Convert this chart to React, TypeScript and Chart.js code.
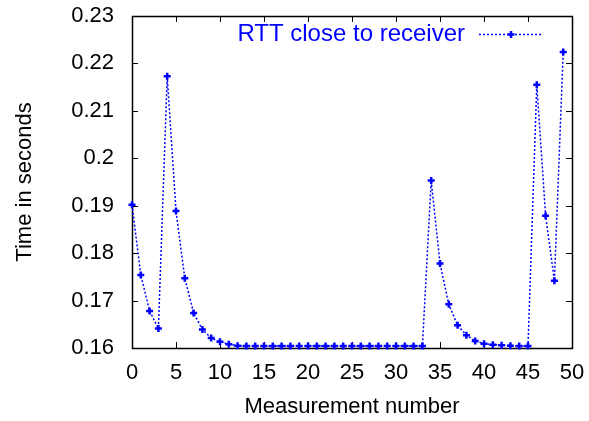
import React, { useEffect, useRef } from 'react';
import { Chart, registerables } from 'chart.js';

Chart.register(...registerables);

const measurementNumbers = [
  0, 1, 2, 3, 4, 5, 6, 7, 8, 9, 10, 11, 12, 13, 14, 15, 16, 17, 18, 19, 20, 21, 22, 23, 24,
  25, 26, 27, 28, 29, 30, 31, 32, 33, 34, 35, 36, 37, 38, 39, 40, 41, 42, 43, 44, 45, 46, 47, 48, 49,
];
const rttSeconds = [
  0.1902, 0.1754, 0.1678, 0.1641, 0.2173, 0.1889, 0.1747, 0.1674, 0.1639, 0.1621, 0.1613, 0.1608, 0.1605,
  0.1604, 0.1604, 0.1604, 0.1604, 0.1604, 0.1604, 0.1604, 0.1604, 0.1604, 0.1604,
  0.1604, 0.1604, 0.1604, 0.1604, 0.1604, 0.1604, 0.1604, 0.1604, 0.1604, 0.1604, 0.1604,
  0.1953, 0.1778, 0.1692, 0.1648, 0.1627, 0.1615, 0.1609, 0.1607, 0.1606, 0.1605, 0.1604, 0.1604,
  0.2155, 0.1879, 0.1742, 0.2224,
];
const xTickValues = [0, 5, 10, 15, 20, 25, 30, 35, 40, 45, 50];
const xTickLabels = ['0', '5', '10', '15', '20', '25', '30', '35', '40', '45', '50'];
const yTickValues = [0.16, 0.17, 0.18, 0.19, 0.2, 0.21, 0.22, 0.23];
const yTickLabels = ['0.16', '0.17', '0.18', '0.19', '0.2', '0.21', '0.22', '0.23'];
const seriesLabel = 'RTT close to receiver';
const xTitle = 'Measurement number';
const yTitle = 'Time in seconds';

const FONT = "'Liberation Sans', Arial, Helvetica, sans-serif";
const BLUE = '#0000ff';

function drawPlus(ctx: CanvasRenderingContext2D, x: number, y: number, r: number) {
  ctx.beginPath();
  ctx.moveTo(x - r, y);
  ctx.lineTo(x + r, y);
  ctx.moveTo(x, y - r);
  ctx.lineTo(x, y + r);
  ctx.stroke();
}

const zeroPadding = (scale: any) => {
  scale.paddingTop = 0;
  scale.paddingBottom = 0;
  scale.paddingLeft = 0;
  scale.paddingRight = 0;
};

const framePlugin = {
  id: 'gnuFrame',
  beforeDatasetsDraw(chart: any) {
    const { ctx, chartArea, scales } = chart;
    const { left, right, top, bottom } = chartArea;
    const tl = 6;
    ctx.save();
    ctx.strokeStyle = '#000';
    ctx.lineWidth = 1;
    ctx.beginPath();
    scales.x.ticks.forEach((t: any) => {
      const px = Math.round(scales.x.getPixelForValue(t.value)) + 0.5;
      ctx.moveTo(px, bottom);
      ctx.lineTo(px, bottom - tl);
      ctx.moveTo(px, top);
      ctx.lineTo(px, top + tl);
    });
    scales.y.ticks.forEach((t: any) => {
      const py = Math.round(scales.y.getPixelForValue(t.value)) + 0.5;
      ctx.moveTo(left, py);
      ctx.lineTo(left + tl, py);
      ctx.moveTo(right, py);
      ctx.lineTo(right - tl, py);
    });
    ctx.stroke();
    ctx.lineWidth = 1.5;
    ctx.strokeRect(left + 0.5, top + 0.5, right - left, bottom - top);
    ctx.restore();
  },
  afterDraw(chart: any) {
    const { ctx } = chart;
    ctx.save();
    ctx.font = `24px ${FONT}`;
    ctx.fillStyle = BLUE;
    ctx.textAlign = 'right';
    ctx.textBaseline = 'middle';
    ctx.fillText(seriesLabel, 465, 34);
    ctx.strokeStyle = BLUE;
    ctx.lineWidth = 1.5;
    ctx.setLineDash([2, 2]);
    ctx.beginPath();
    ctx.moveTo(479, 34.5);
    ctx.lineTo(542, 34.5);
    ctx.stroke();
    ctx.setLineDash([]);
    ctx.lineWidth = 2.5;
    drawPlus(ctx, 511, 34.5, 3.5);
    ctx.restore();
  },
};

export default function App() {
  const canvasRef = useRef<HTMLCanvasElement | null>(null);

  useEffect(() => {
    document.body.style.margin = '0';
    const canvas = canvasRef.current;
    if (!canvas) return;
    const chart = new Chart(canvas, {
      type: 'line',
      data: {
        datasets: [
          {
            label: seriesLabel,
            data: measurementNumbers.map((x, i) => ({ x, y: rttSeconds[i] })),
            borderColor: BLUE,
            backgroundColor: BLUE,
            borderWidth: 1.5,
            borderDash: [2, 2],
            pointStyle: 'cross',
            pointRadius: 3.5,
            pointBorderWidth: 2.5,
            pointBorderColor: BLUE,
            pointHoverRadius: 3.5,
            tension: 0,
            fill: false,
            clip: false as any,
          },
        ],
      },
      options: {
        animation: false,
        responsive: false,
        devicePixelRatio: 1,
        layout: { padding: { top: 16, right: 17, bottom: 0, left: 0 } },
        plugins: {
          legend: { display: false },
          tooltip: { enabled: false },
        },
        scales: {
          x: {
            type: 'linear',
            min: 0,
            max: 50,
            afterBuildTicks: (scale: any) => {
              scale.ticks = xTickValues.map((v) => ({ value: v }));
            },
            afterFit: (scale: any) => {
              scale.height = 73;
              zeroPadding(scale);
            },
            ticks: {
              autoSkip: false,
              maxRotation: 0,
              minRotation: 0,
              padding: 12,
              color: '#000',
              font: { family: FONT, size: 22 },
              callback: (_v: any, i: number) => xTickLabels[i],
            },
            grid: { display: false, drawTicks: false },
            border: { display: false },
            title: {
              display: true,
              text: xTitle,
              color: '#000',
              font: { family: FONT, size: 22 },
              padding: { top: 0, bottom: 1 },
            },
          },
          y: {
            type: 'linear',
            min: 0.16,
            max: 0.23,
            afterBuildTicks: (scale: any) => {
              scale.ticks = yTickValues.map((v) => ({ value: v }));
            },
            afterFit: (scale: any) => {
              scale.width = 132;
              zeroPadding(scale);
            },
            ticks: {
              autoSkip: false,
              padding: 18,
              color: '#000',
              font: { family: FONT, size: 22 },
              callback: (_v: any, i: number) => yTickLabels[i],
            },
            grid: { display: false, drawTicks: false },
            border: { display: false },
            title: {
              display: true,
              text: yTitle,
              color: '#000',
              font: { family: FONT, size: 22 },
              padding: { top: 12, bottom: 0 },
            },
          },
        },
      },
      plugins: [framePlugin],
    });
    return () => chart.destroy();
  }, []);

  return (
    <div style={{ position: 'fixed', left: 0, top: 0, width: 589, height: 421 }}>
      <canvas ref={canvasRef} width={589} height={421} style={{ width: 589, height: 421 }} />
    </div>
  );
}
